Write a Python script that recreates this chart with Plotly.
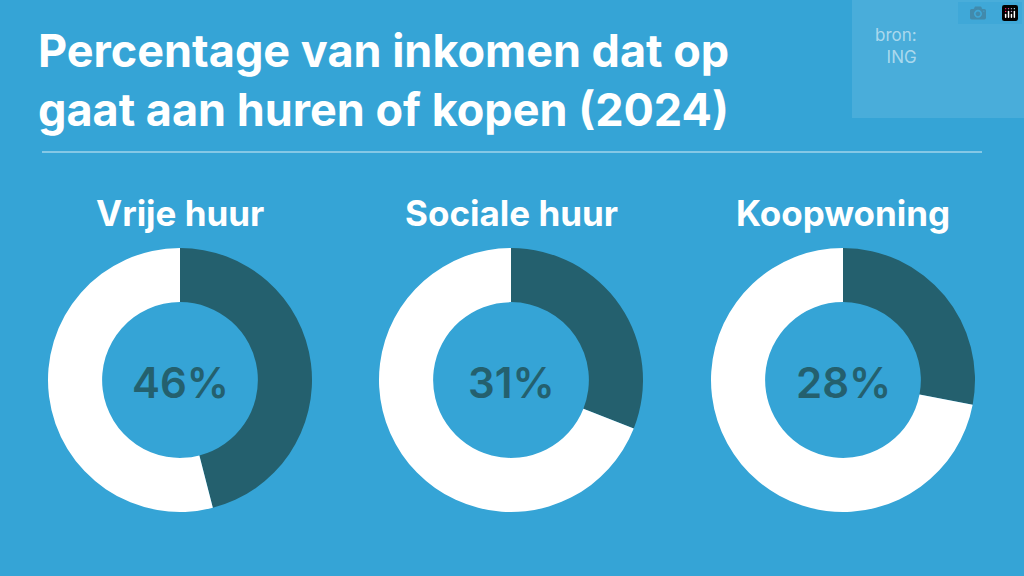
import plotly.graph_objects as go

categories = ["Vrije huur", "Sociale huur", "Koopwoning"]
shares = [46, 31, 28]
centers_px = [180, 511, 843]

BG = "#35A4D6"
DARK = "#24606E"
W, H = 1024, 576
R = 132

fig = go.Figure()
for cat, val, cx in zip(categories, shares, centers_px):
    fig.add_trace(go.Pie(
        values=[val, 100 - val],
        marker=dict(colors=[DARK, "white"], line=dict(width=0)),
        hole=0.59, sort=False, direction="clockwise", rotation=0,
        textinfo="none", hoverinfo="skip", showlegend=False,
        domain=dict(x=[(cx - R) / W, (cx + R) / W], y=[(576 - 512) / H, (576 - 248) / H]),
    ))
    fig.add_annotation(x=cx / W, y=1 - 382 / H, xref="paper", yref="paper",
                       xanchor="center", yanchor="middle",
                       text=f"{val}%", showarrow=False,
                       font=dict(family="Inter", size=42, color=DARK, weight=600))
    fig.add_annotation(x=cx / W, y=1 - 213 / H, xref="paper", yref="paper",
                       xanchor="center", yanchor="middle",
                       text=f"<b>{cat}</b>", showarrow=False,
                       font=dict(family="Inter", size=35, color="white"))

fig.add_annotation(x=36 / W, y=1 - 80 / H, xref="paper", yref="paper", xanchor="left",
                   yanchor="middle", align="left", showarrow=False,
                   text="<b>Percentage van inkomen dat op<br>gaat aan huren of kopen (2024)</b>",
                   font=dict(family="Inter", size=45, color="white"))

fig.add_shape(type="rect", xref="paper", yref="paper", x0=852 / W, x1=1, y0=1 - 118 / H, y1=1,
              fillcolor="rgba(255,255,255,0.1)", line=dict(width=0), layer="below")
fig.add_annotation(x=873 / W, y=1 - 46 / H, xref="paper", yref="paper", xanchor="left",
                   yanchor="middle", align="right", showarrow=False, text="bron:<br>ING",
                   font=dict(family="Inter", size=17, color="rgba(255,255,255,0.55)"))
fig.add_shape(type="line", xref="paper", yref="paper", x0=42 / W, x1=982 / W,
              y0=1 - 152 / H, y1=1 - 152 / H, line=dict(color="rgba(255,255,255,0.8)", width=1))

fig.update_layout(width=W, height=H, margin=dict(l=0, r=0, t=0, b=0),
                  paper_bgcolor=BG, plot_bgcolor=BG)
fig.write_html("out.html")

with open("out.html", encoding="utf-8") as f:
    page = f.read()
page = page.replace("<body>", '<body style="margin:0">', 1)
with open("out.html", "w", encoding="utf-8") as f:
    f.write(page)
